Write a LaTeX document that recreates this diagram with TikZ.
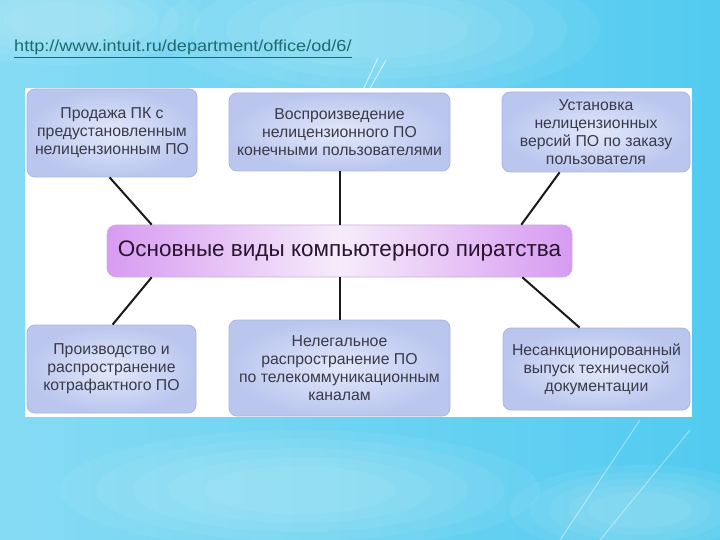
\documentclass[tikz,border=0pt]{standalone}
\usepackage{fontspec}
\usepackage{graphicx}
\setmainfont{Liberation Sans}
\usetikzlibrary{calc}
\definecolor{bgL}{HTML}{86DBF4}
\definecolor{bgR}{HTML}{52CBF0}
\definecolor{urlc}{HTML}{1E6A70}
\definecolor{boxin}{HTML}{E2E8FA}
\definecolor{boxout}{HTML}{BAC6EE}
\definecolor{boxedge}{HTML}{A8B6E2}
\definecolor{boxtext}{HTML}{3A3A48}
\definecolor{cside}{HTML}{D79BF2}
\definecolor{cmid}{HTML}{F6ECFA}
\definecolor{ctext}{HTML}{2A1430}
\tikzset{
  sbox/.style={draw=boxedge, line width=0.8pt, rounded corners=8pt,
    inner color=boxin, outer color=boxout, align=center, inner sep=0pt,
    font=\fontsize{15.8}{18}\selectfont, text=boxtext},
  cbox/.style={draw=cside!80!black!60, line width=0.6pt, rounded corners=9pt,
    left color=cside, right color=cside, middle color=cmid, inner sep=0pt,
    font=\fontsize{22.5}{26}\selectfont, text=ctext},
  conn/.style={draw=black!90, line width=2pt},
  streak/.style={draw=white, line width=1pt, opacity=0.6},
  glow/.style={fill=white, opacity=0.06}
}
\begin{document}
\begin{tikzpicture}[x=1pt,y=-1pt]
\useasboundingbox (0,0) rectangle (720,540);
% background
\shade[left color=bgL, right color=bgR] (0,0) rectangle (720,540);
\foreach \s in {1.0,0.85,0.7,0.55,0.4} {
  \fill[glow] (380,30) ellipse ({220*\s} and {70*\s});
  \fill[glow] (300,490) ellipse ({240*\s} and {60*\s});
  \fill[glow] (640,510) ellipse ({130*\s} and {45*\s});
  \fill[glow] (60,20) ellipse ({140*\s} and {45*\s});
}
\draw[streak] (362,92) -- (378,58);
\draw[streak] (368,92) -- (386,60);
\draw[streak, opacity=0.4] (560,540) -- (640,420);
\draw[streak, opacity=0.4] (600,540) -- (690,430);
% white panel
\fill[white] (25,88) rectangle (692,417);
% URL
\node[anchor=base west, inner sep=0pt, text=urlc,
  font=\fontsize{16}{18}\selectfont] (url) at (14,52)
  {\scalebox{1.13}[1]{\underline{http://www.intuit.ru/department/office/od/6/}}};
% nodes
\node[cbox, minimum width=465, minimum height=52] (ctr) at (339.5,251)
  {Основные виды компьютерного пиратства};
\node[sbox, minimum width=170, minimum height=88] (tl) at (112,133)
  {Продажа ПК с\\предустановленным\\нелицензионным ПО};
\node[sbox, minimum width=221, minimum height=78] (tc) at (339.5,132)
  {Воспроизведение\\нелицензионного ПО\\конечными пользователями};
\node[sbox, minimum width=188, minimum height=80] (tr) at (596,132)
  {Установка\\нелицензионных\\версий ПО по заказу\\пользователя};
\node[sbox, minimum width=169, minimum height=88] (bl) at (111.5,369)
  {Производство и\\распространение\\котрафактного ПО};
\node[sbox, minimum width=221, minimum height=96] (bc) at (339.5,368)
  {Нелегальное\\распространение ПО\\по телекоммуникационным\\каналам};
\node[sbox, minimum width=187, minimum height=82] (br) at (596.5,369)
  {Несанкционированный\\выпуск технической\\документации};
% connectors
\draw[conn] ($(tl.south west)+(83,0)$) -- ($(ctr.north west)+(45,0)$);
\draw[conn] (tc.south) -- (ctr.north);
\draw[conn] ($(tr.south west)+(58,0)$) -- ($(ctr.north east)+(-51,0)$);
\draw[conn] ($(ctr.south west)+(45,0)$) -- ($(bl.north west)+(86,0)$);
\draw[conn] (ctr.south) -- (bc.north);
\draw[conn] ($(ctr.south east)+(-50,0)$) -- ($(br.north west)+(77,0)$);
\end{tikzpicture}
\end{document}
